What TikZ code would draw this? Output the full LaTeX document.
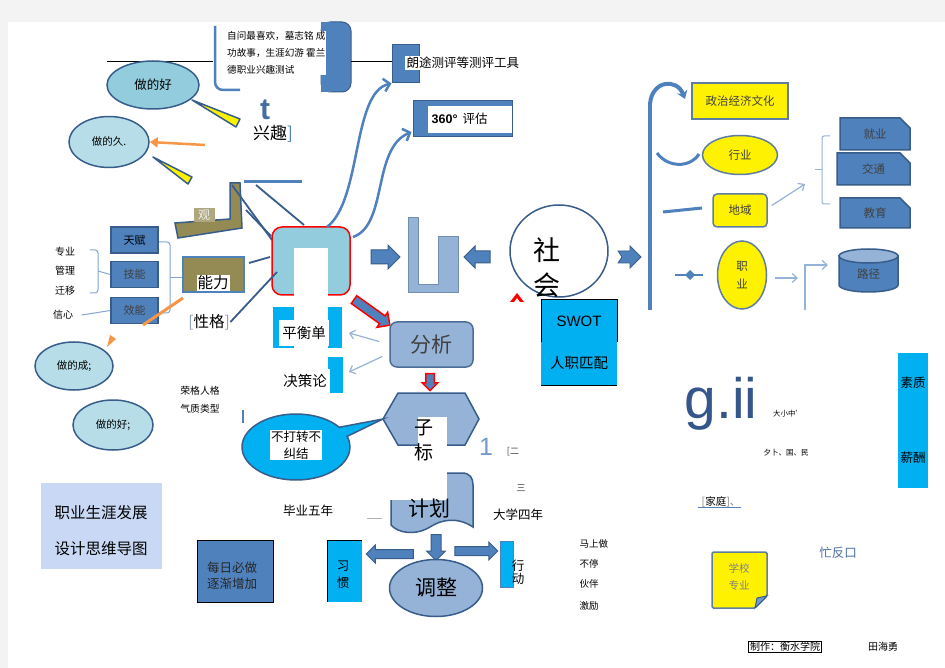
\documentclass[tikz,border=0pt]{standalone}
\usepackage{fontspec}
\setmainfont{Noto Sans CJK SC}
\newfontfamily\lat{Liberation Sans}
\usetikzlibrary{shapes.geometric,shapes.misc,shapes.arrows,shapes.callouts,arrows.meta,calc}
\definecolor{bF}{HTML}{4F81BD}
\definecolor{bD}{HTML}{385D8A}
\definecolor{bL}{HTML}{95B3D7}
\definecolor{cy}{HTML}{00B0F0}
\definecolor{ol}{HTML}{948A54}
\definecolor{elA}{HTML}{93CDDD}
\definecolor{elB}{HTML}{B7DEE8}
\definecolor{tb}{HTML}{C9D9F5}
\definecolor{bgG}{HTML}{F3F3F3}
\definecolor{tx}{HTML}{404040}
\definecolor{orng}{HTML}{F79646}
\definecolor{gcol}{HTML}{34568A}
\definecolor{ltxt}{HTML}{4A6FA0}
\newcommand{\myfs}[1]{\fontsize{#1}{#1}\selectfont}
\tikzset{
  lbl/.style={inner sep=0.5pt, font=\myfs{#1}},
  lbl/.default=10,
  bluebox/.style={draw=bD, line width=1.5pt, fill=bF, inner sep=0pt},
  yel/.style={draw=bD!80, line width=1.5pt, fill=yellow, inner sep=0pt, text=tx},
  bubble/.style={ellipse, draw=bD, line width=1.5pt, inner sep=0pt},
  blockarr/.style={single arrow, fill=bF, draw=bD, line width=1pt, inner xsep=0pt, minimum width=0pt},
  redarr/.style={single arrow, fill=bF, draw=red, line width=1.5pt, inner xsep=0pt, minimum width=0pt},
  thinarr/.style={bL, line width=1.2pt, -{Straight Barb[length=5pt,width=9pt]}},
  curvarr/.style={bF, line width=2.5pt, -{Straight Barb[length=6pt,width=13pt]}},
}
\begin{document}
\begin{tikzpicture}[x=1pt,y=-1pt]
\useasboundingbox (0,0) rectangle (945,668);
\fill[bgG] (0,0) rectangle (945,668);
\fill[white] (8,22) rectangle (945,668);

% ---- top intro block
\draw[black, line width=0.6pt] (107,61) -- (213,61);
\draw[bF, line width=2.5pt, rounded corners=8pt] (215,26) -- (215,90) -- (240,90);
\filldraw[fill=bF, draw=bD, line width=1pt, rounded corners=9pt] (321,92) -- (321,22) -- (351,22) -- (351,92) -- cycle;
\fill[bF] (321,22) rectangle (332,92);
\node[lbl=9.6, anchor=west, fill=white, align=left, font=\fontsize{9.6}{17}\selectfont, inner sep=1pt] (intro) at (226,53) {自问最喜欢，墓志铭 成\\功故事，生涯幻游 霍兰\\德职业兴趣测试};
\draw[black, line width=0.6pt] (351,61) -- (392,61);
\node[bluebox, line width=1pt, minimum width=27pt, minimum height=38pt] (ltbox) at (405.5,64) {};
\node[lbl=12.5, anchor=west, fill=white, inner sep=1.5pt] (langtu) at (405,63) {朗途测评等测评工具};
\node[bluebox, line width=1pt, minimum width=99pt, minimum height=36pt] (b360) at (462.5,119) {};
\fill[white] (428,106) rectangle (512,133);
\node[lbl=12.5, anchor=west] (t360) at (431,119) {{\lat\bfseries 360°}\hspace{5pt}评估};

% ---- interest area
\node[lbl=30, font=\lat\bfseries\myfs{30}, text=bF!85!black] (tt) at (265,110) {t};
\node[lbl=17] (xq) at (273,134) {兴趣\textcolor{bF}{]}};
\node[bubble, fill=elA, minimum width=92pt, minimum height=48pt, font=\myfs{12.5}] (zdh) at (153,85) {做的好};
\node[bubble, fill=elB, minimum width=80pt, minimum height=51pt, font=\myfs{10.5}] (zdj) at (109,142) {做的久.};
\filldraw[fill=yellow, draw=bD, line width=1.5pt, line join=round] (192,100) -- (240,119) -- (236,127) -- cycle;
\filldraw[fill=yellow, draw=bD, line width=1.5pt, line join=round] (153,157) -- (192,177) -- (188,184) -- cycle;
\coordinate (oa) at (205,145);
\draw[orng, line width=2.5pt, -{Triangle[length=8pt,width=10pt]}] (oa) -- (zdj.east);
\draw[bF, line width=3pt] (244,182) -- (302,182);
\draw[bD, line width=1.8pt] (256,185) -- (304,225);
\filldraw[fill=ol, draw=bD, line width=1.5pt] (175,223) -- (230,219) -- (230,183) -- (240,183) -- (242,228) -- (178,238) -- cycle;
\node[lbl=12, fill=ol!75!white, text=white!88!gray, minimum width=21pt, minimum height=14pt] (guan) at (204,215) {观};
\draw[bD, line width=1.8pt] (232,185) -- (272,240);
\draw[bD, line width=1.8pt] (246,210) -- (271,236);

% ---- central box
\node[draw=red, line width=1.5pt, fill=elA, rounded corners=10pt, minimum width=78pt, minimum height=68pt] (core) at (311,261) {};
\coordinate (c1) at (327,227);
\coordinate (c2) at (353,237);
\draw[curvarr] (c1) .. controls (362,200) and (352,92) .. (ltbox.south west);
\draw[curvarr] (c2) .. controls (388,225) and (372,148) .. ($(b360.west)+(-1,13)$);

% ---- left skills
\node[bluebox, minimum width=47pt, minimum height=26pt, font=\myfs{11}] (tf) at (134.5,240) {天赋};
\node[bluebox, minimum width=47pt, minimum height=26pt, font=\myfs{11}, text=tx] (jn) at (134.5,274.5) {技能};
\node[bluebox, minimum width=47pt, minimum height=26pt, font=\myfs{11}, text=tx] (xn) at (134.5,310.5) {效能};
\node[lbl=10] (zy) at (65,252) {专业};
\node[lbl=10] (gl) at (65,271) {管理};
\node[lbl=10] (qy) at (65,291) {迁移};
\node[lbl=10] (xx) at (63,315) {信心};
\draw[bF!70, line width=1pt, rounded corners=3pt] (90,250) -- (98,250) -- (98,293) -- (90,293);
\draw[bF!70, line width=1pt] (98,271) -- (jn.west);
\draw[bF!70, line width=1pt] (xx.east)+(8,0) -- (xn.west);
\node[draw=bF, line width=1.5pt, fill=ol, minimum width=61pt, minimum height=35pt] (nl) at (213.5,274.5) {};
\draw[bF!70, line width=1pt, rounded corners=3pt] (159,242) -- (170,242) -- (170,313) -- (159,313);
\draw[bF!70, line width=1pt] (170,278) -- (nl.west |- 0,278);
\node[lbl=15.5, fill=white, inner sep=1pt] (nltx) at (213,283) {能力};
\node[lbl=15.5] (xg) at (209,322) {\textcolor{bD!60}{[}性格\textcolor{bD!60}{]}};
\draw[bD, line width=1.8pt] (249,263) -- (270,257);
\draw[bD, line width=1.8pt] (xg.east) -- (277,272);
\draw[orng, line width=3pt] (183,298) -- (143,325);
\fill[orng] (107,347) -- (110,335) -- (116,339) -- cycle;
\node[bubble, fill=elB, minimum width=78pt, minimum height=48pt, font=\myfs{10.5}] (zdc) at (74,366) {做的成;};
\node[bubble, fill=elB, minimum width=80pt, minimum height=50pt, font=\myfs{10.5}] (zdh2) at (113,425) {做的好;};
\node[lbl=9.8] (rg) at (200,391) {荣格人格};
\node[lbl=9.8] (qz) at (200,409) {气质类型};
\draw[bF, line width=1.5pt] (243,410) -- (243,423);

% ---- balance / decision
\fill[cy] (273,307) rectangle (342,348);
\fill[cy] (328,357) rectangle (343,393);
\fill[white] (294,248) rectangle (328,348);
\node[lbl=14.5, fill=white, minimum height=26pt, inner xsep=3pt] (phd) at (304,333) {平衡单};
\node[lbl=14.5, fill=white, minimum height=24pt, inner xsep=3pt] (jcl) at (305,381) {决策论};

% ---- analysis chain
\node[redarr, minimum height=44pt, inner ysep=4pt, single arrow head extend=4.5pt, rotate=-35.5] (ra) at (370,311) {};
\node[draw=bD!90, line width=1.5pt, fill=bL, rounded corners=7pt, minimum width=83pt, minimum height=45pt, font=\myfs{21}, text=tx] (fx) at (431.5,344.5) {分析};
\draw[thinarr] ($(fx.west)+(-10,-3)$) -- ($(phd.east)+(20,0)$);
\draw[thinarr] ($(fx.west)+(-7,12)$) -- ($(jcl.east)+(19,-9)$);
\node[redarr, minimum height=17pt, inner ysep=3.5pt, single arrow head extend=3.5pt, rotate=-90] (ra2) at (430,380) {};
\filldraw[fill=bL, draw=bD, line width=1.5pt] (383,419) -- (398,393) -- (465,393) -- (479,419) -- (465,445) -- (398,445) -- cycle;
\fill[white] (418,417) rectangle (447,460);
\node[lbl=19] (zi) at (424,428) {子};
\node[lbl=19] (biao) at (424,452) {标};
\node[ellipse callout, draw=bD, line width=1.5pt, fill=cy, minimum width=108pt, minimum height=66pt, callout absolute pointer={(383,419)}, callout pointer arc=18] (bdz) at (296,447) {};
\node[fill=white, inner sep=1pt, align=center, font=\fontsize{12.5}{17}\selectfont] (bdzt) at (296,445) {不打转不\\纠结};
\node[lbl=24, font=\lat\myfs{25}, text=bF!80] (one) at (486,447) {1};
\node[lbl=9, text=tx] (er) at (513,452) {[二};
\node[lbl=9, text=tx] (san) at (521,488) {三};
\node[lbl=12.5] (dx) at (518,515) {大学四年};
\node[lbl=12.5] (by) at (308,511) {毕业五年};
\draw[gray!60, line width=0.6pt] (367,518) -- (382,518);

% ---- plan
\filldraw[fill=bL, draw=bD, line width=1.5pt] (391,473) -- (462,473) .. controls (470,473) and (473,478) .. (473,485) -- (473,527) .. controls (458,517) and (442,519) .. (430,527) .. controls (415,536) and (398,533) .. (391,525) -- cycle;
\fill[white] (390,471) rectangle (447,500);
\node[lbl=21] (jh) at (429,509) {计划};
\node[blockarr, minimum height=26pt, inner ysep=4.5pt, single arrow head extend=4.5pt, rotate=-90] (da) at (436,545) {};
\node[blockarr, minimum height=47pt, inner ysep=4pt, single arrow head extend=4.5pt, rotate=180] (la) at (392,554) {};
\node[blockarr, minimum height=43pt, inner ysep=4pt, single arrow head extend=4.5pt] (rar) at (474,551) {};
\node[bubble, fill=bL, minimum width=93pt, minimum height=57pt, font=\myfs{21}] (tz) at (436,588) {调整};
\fill[cy] (327,540) rectangle (362,602);
\draw[black, line width=1pt] (327,602) -- (327,540) -- (362,540);
\node[lbl=12.5, align=center, font=\fontsize{12.5}{17}\selectfont] (xgu) at (343,575) {习\\惯};
\node[draw=bF, line width=1pt, fill=cy, minimum width=13pt, minimum height=46pt, inner sep=0pt] (xd) at (506.5,564) {};
\node[lbl=12.5, align=center, font=\fontsize{12.5}{13}\selectfont] (xdt) at (518,572) {行\\动};
\node[lbl=9.5, anchor=west] (m1) at (579,544) {马上做};
\node[lbl=9.5, anchor=west] (m2) at (579,564) {不停};
\node[lbl=9.5, anchor=west] (m3) at (579,584) {伙伴};
\node[lbl=9.5, anchor=west] (m4) at (579,606) {激励};
\node[draw=black, line width=1pt, fill=bF, minimum width=76pt, minimum height=62pt] (mr) at (235,571) {};
\node[lbl=12.5, align=center, font=\fontsize{12.5}{16}\selectfont, text=black!85] (mrt) at (232,576) {每日必做\\逐渐增加};
\node[fill=tb, minimum width=121pt, minimum height=86pt] (title) at (101.5,526) {};
\node[lbl=15.5, align=center, font=\fontsize{15.5}{36}\selectfont] (titlet) at (101,531) {职业生涯发展\\设计思维导图};

% ---- U + society
\filldraw[fill=bL, draw=bD!70, line width=1pt] (408,218) -- (418,218) -- (418,285) -- (438,285) -- (438,237) -- (458,237) -- (458,293) -- (408,293) -- cycle;
\node[blockarr, minimum height=29pt, inner ysep=6.5pt, single arrow head extend=5pt] (a1) at (382,257) {};
\node[blockarr, minimum height=26pt, inner ysep=5.5pt, single arrow head extend=5pt, rotate=180] (a2) at (480,257) {};
\node[ellipse, draw=bD, line width=1.5pt, fill=white, minimum width=98pt, minimum height=92pt] (sh) at (559,251) {};
\node[lbl=27] (she) at (547,250) {社};
\node[lbl=27] (hui) at (547,285) {会};
\fill[red] (510,302) -- (517,293) -- (524,302) -- (520,302) -- (517,298) -- (514,302) -- cycle;
\fill[cy] (541,300) rectangle (617,385);
\draw[black, line width=1pt] (541,342) -- (541,300) -- (617,300) -- (617,342);
\draw[black, line width=1pt] (541,385) -- (617,385);
\node[lbl=15, font=\lat\myfs{15}] (swot) at (579,321) {SWOT};
\node[lbl=14.5] (rz) at (579,363) {人职匹配};
\filldraw[fill=bF, draw=bD, line width=0.8pt] (618,251) -- (630,251) -- (630,246) -- (641,257) -- (630,268) -- (630,263) -- (618,263) -- (622,257) -- cycle;

% ---- right column
\draw[bF, line width=4pt] (650,310) -- (650,102);
\draw[bF, line width=4pt, -{Stealth[length=8pt,width=11pt]}] (650,104) .. controls (652,80) and (677,78) .. (685,99);
\node[yel, minimum width=96pt, minimum height=36pt, font=\myfs{11.5}] (zz) at (740,101) {政治经济文化};
\draw[bF, line width=3pt] (657,153) .. controls (668,168) and (690,168) .. (699,154);
\node[yel, ellipse, minimum width=75pt, minimum height=39pt, font=\myfs{11.5}] (hy) at (740,155) {行业};
\draw[bF, line width=3pt] (663,212) -- (702,208);
\node[yel, rounded corners=4pt, minimum width=54pt, minimum height=33pt, font=\myfs{11.5}] (dy) at (740,210.5) {地域};
\coordinate (brc) at (805,184);
\draw[thinarr] (dy.east)+(4,-5) -- (brc);
\draw[bF!60, line width=1pt, rounded corners=2pt] (830,136) -- (822,136) -- (822,204) -- (830,204);
\draw[bF!60, line width=1pt] (822,170) -- (815,170);
\tikzset{snip/.style={bluebox, chamfered rectangle, chamfered rectangle corners=north east, chamfered rectangle xsep=5pt, chamfered rectangle ysep=5pt, font=\myfs{11.5}, text=tx}}
\node[snip, minimum width=70pt, minimum height=32pt] (jy) at (875,134) {就业};
\node[snip, minimum width=73pt, minimum height=32pt] (jt) at (873.5,169) {交通};
\node[snip, minimum width=70pt, minimum height=30pt] (edu) at (875,213) {教育};
\draw[bF, line width=2pt] (675,275) -- (703,275);
\fill[bF] (685,275) -- (690,270) -- (695,275) -- (690,280) -- cycle;
\node[yel, ellipse, minimum width=49pt, minimum height=68pt, align=center, font=\fontsize{11.5}{18}\selectfont] (zyl) at (742,275) {职\\业};
\coordinate (zyr) at (798,278);
\draw[thinarr] (zyl.east)+(8,3) -- (zyr);
\coordinate (lj0) at (805,310);
\coordinate (lj1) at (828,265);
\draw[thinarr] (lj0) |- (lj1);
\filldraw[fill=bF, draw=bD, line width=1.5pt] (839,256) -- (839,285) arc[start angle=180, end angle=0, x radius=29.5, y radius=7] -- (898,256) -- cycle;
\filldraw[fill=bL, draw=bD, line width=1.5pt] (868.5,256) ellipse [x radius=29.5, y radius=7];
\node[lbl=11.5, text=tx] (lj) at (868.5,274) {路径};

% ---- lower right
\node[lbl=57, font=\lat\myfs{57}, text=gcol, anchor=base west] (gii) at (684,418) {g.ii};
\node[lbl=7.5] (dxz) at (788,414) {大小中'};
\node[lbl=7.5] (wgm) at (786,453) {夕卜、国、民};
\node[lbl=10.5] (jt2) at (721,502) {\textcolor{gray}{[}家庭\textcolor{gray}{]}\textcolor{gray}{、}};
\draw[bF, line width=1pt] (698,507) -- (741,507);
\node[fill=cy, minimum width=30pt, minimum height=135pt, inner sep=0pt] (sz) at (913,420.5) {};
\node[lbl=12.5] (szt) at (913,383) {素质};
\node[lbl=12.5] (xc) at (913,458) {薪酬};
\node[lbl=12.5, text=ltxt] (mf) at (838,553) {忙反口};
\filldraw[fill=yellow, draw=bD!80, line width=1.5pt, rounded corners=1.5pt] (712,552) -- (767,552) -- (767,596) -- (755,608) -- (712,608) -- cycle;
\filldraw[fill=bF!80, draw=bD, line width=1pt] (767,596) -- (755,608) -- (757,598) -- cycle;
\node[lbl=10.5, align=center, text=gray, font=\fontsize{10.5}{17}\selectfont] (xx2) at (739,577) {学校\\专业};
\node[draw=black, line width=0.8pt, inner xsep=1.5pt, inner ysep=0.5pt, font=\myfs{10}] (zz2) at (785,647) {制作：衡水学院};
\node[lbl=10] (thy) at (883,647) {田海勇};
\end{tikzpicture}
\end{document}
